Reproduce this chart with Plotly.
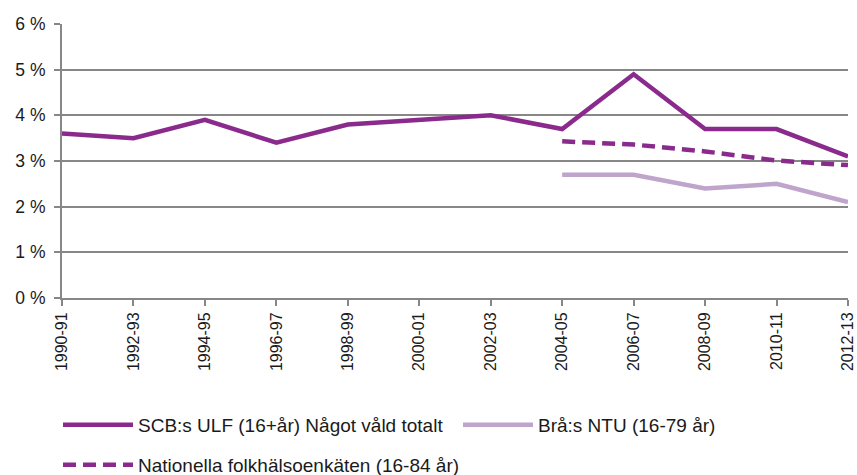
import plotly.graph_objects as go

categories = ["1990-91", "1992-93", "1994-95", "1996-97", "1998-99", "2000-01",
              "2002-03", "2004-05", "2006-07", "2008-09", "2010-11", "2012-13"]
ulf = [3.6, 3.5, 3.9, 3.4, 3.8, 3.9, 4.0, 3.7, 4.9, 3.7, 3.7, 3.1]
ntu_categories = categories[7:]
ntu = [2.7, 2.7, 2.4, 2.5, 2.1]
nfhe_categories = categories[7:]
nfhe = [3.43, 3.36, 3.21, 3.01, 2.91]
y_ticks = [0, 1, 2, 3, 4, 5, 6]
y_labels = [f"{v} %" for v in y_ticks]

DARK = "#8B2A8D"
LIGHT = "#BFA4CC"
GRID = "#878787"
FONT = "Liberation Sans, Arial, Helvetica, sans-serif"

fig = go.Figure()
fig.add_trace(go.Scatter(x=categories, y=ulf, mode="lines",
                         name="SCB:s ULF (16+år) Något våld totalt", showlegend=True,
                         line=dict(color=DARK, width=4.5), legend="legend"))
fig.add_trace(go.Scatter(x=ntu_categories, y=ntu, mode="lines",
                         name="Brå:s NTU (16-79 år)", showlegend=True,
                         line=dict(color=LIGHT, width=4.5), legend="legend2"))
fig.add_trace(go.Scatter(x=nfhe_categories, y=nfhe, mode="lines",
                         name="Nationella folkhälsoenkäten (16-84 år)", showlegend=True,
                         line=dict(color=DARK, width=4.5, dash="13px,7px"), legend="legend3"))

W, H = 857, 475


def leg(px, py):
    return dict(orientation="h", xref="container", yref="container",
                x=px / W, y=1 - py / H, xanchor="left", yanchor="middle",
                itemwidth=70, font=dict(size=19), bgcolor="rgba(0,0,0,0)")


fig.update_layout(
    width=W, height=H,
    showlegend=True,
    margin=dict(l=62, r=9, t=24, b=177),
    paper_bgcolor="white", plot_bgcolor="white",
    font=dict(family=FONT, size=16, color="#1a1a1a"),
    legend=leg(58, 425),
    legend2=leg(458, 425),
    legend3=leg(58, 465),
    xaxis=dict(type="category", categoryorder="array", categoryarray=categories,
               range=[0, len(categories) - 1],
               tickvals=categories, ticktext=categories,
               tickangle=-90, ticks="outside", ticklen=6, tickcolor=GRID, tickwidth=1.5,
               showline=True, linecolor=GRID, linewidth=2,
               showgrid=False, zeroline=False, automargin=False,
               tickfont=dict(size=16)),
    yaxis=dict(range=[0, 6], tickvals=y_ticks, ticktext=y_labels,
               ticks="outside", ticklen=6, tickcolor=GRID, tickwidth=1.5,
               showline=True, linecolor=GRID, linewidth=2,
               showgrid=True, gridcolor=GRID, gridwidth=1.5,
               ticklabelstandoff=5,
               zeroline=False, automargin=False, tickfont=dict(size=17.5)),
)

fig.write_html("out.html", config={"displayModeBar": False},
               post_script="document.body.style.margin='0';")
